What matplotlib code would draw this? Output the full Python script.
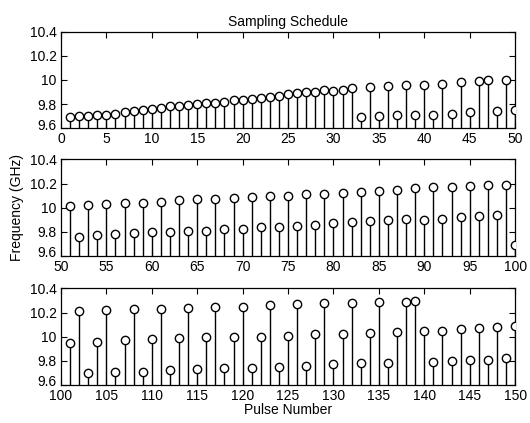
import numpy as np
import matplotlib
matplotlib.use("Agg")
import matplotlib.pyplot as plt
import matplotlib.transforms as mtransforms

plt.rcParams['font.family'] = ['Liberation Sans', 'DejaVu Sans']
plt.rcParams['font.size'] = 10

# pulse numbers 1..150 and the frequency (GHz) used for each pulse
pulses = np.arange(1, 151)

freq_1_50 = [9.69, 9.70, 9.70, 9.71, 9.71, 9.72, 9.73, 9.74, 9.75, 9.76,
             9.77, 9.78, 9.78, 9.79, 9.80, 9.81, 9.81, 9.82, 9.83, 9.83,
             9.84, 9.85, 9.86, 9.87, 9.88, 9.89, 9.90, 9.90, 9.92, 9.91,
             9.92, 9.93, 9.69, 9.94, 9.70, 9.95, 9.71, 9.96, 9.71, 9.96,
             9.71, 9.97, 9.72, 9.98, 9.73, 9.99, 10.00, 9.74, 10.00, 9.75]

freq_51_100 = [10.01, 9.76, 10.02, 9.77, 10.03, 9.78, 10.04, 9.79, 10.04, 9.80,
               10.05, 9.80, 10.06, 9.81, 10.07, 9.81, 10.07, 9.82, 10.08, 9.82,
               10.09, 9.84, 10.10, 9.84, 10.10, 9.85, 10.11, 9.86, 10.11, 9.87,
               10.12, 9.88, 10.13, 9.89, 10.14, 9.90, 10.15, 9.91, 10.16, 9.90,
               10.17, 9.91, 10.17, 9.92, 10.18, 9.93, 10.19, 9.94, 10.19, 9.69]

freq_101_150 = [9.95, 10.21, 9.70, 9.96, 10.22, 9.71, 9.97, 10.23, 9.71, 9.98,
                10.23, 9.72, 9.99, 10.24, 9.73, 10.00, 10.25, 9.74, 10.00, 10.25,
                9.74, 10.00, 10.26, 9.75, 10.01, 10.27, 9.76, 10.02, 10.28, 9.77,
                10.02, 10.28, 9.78, 10.03, 10.29, 9.78, 10.04, 10.29, 10.30, 10.05,
                9.79, 10.05, 9.80, 10.06, 9.81, 10.07, 9.81, 10.08, 9.82, 10.09]

freqs = np.array(freq_1_50 + freq_51_100 + freq_101_150)

yticks = [9.6, 9.8, 10.0, 10.2, 10.4]
ytick_labels = ["9.6", "9.8", "10", "10.2", "10.4"]

fig = plt.figure(figsize=(5.30, 4.23), dpi=100)

left, width = 0.115, 0.857
bottoms = [0.697, 0.395, 0.090]
height = 0.228

# small upward nudge for the lowest y label so it clears the first x label
nudge = mtransforms.ScaledTranslation(0, 3 / 72, fig.dpi_scale_trans)

axes = []
for i, b in enumerate(bottoms):
    ax = fig.add_axes([left, b, width, height])
    lo, hi = 50 * i, 50 * (i + 1)
    sel = (pulses > lo) & (pulses <= hi)
    markers, stems, base = ax.stem(pulses[sel], freqs[sel], linefmt='k-',
                                   markerfmt='ko', basefmt=' ', bottom=9.0)
    stems.set_linewidth(1.0)
    markers.set_markerfacecolor('white')
    markers.set_markeredgecolor('black')
    markers.set_markersize(6)
    markers.set_markeredgewidth(1.0)
    markers.set_zorder(3)

    ax.set_xlim(lo, hi)
    ax.set_ylim(9.6, 10.4)
    ax.set_xticks(np.arange(lo, hi + 1, 5))
    ax.set_yticks(yticks)
    ax.set_yticklabels(ytick_labels)
    ax.tick_params(direction='in', top=True, right=True, length=4,
                   width=0.8, labelsize=10)
    ax.tick_params(axis='x', pad=3)
    ax.tick_params(axis='y', pad=3)
    for s in ax.spines.values():
        s.set_linewidth(0.9)

    lowest = ax.get_yticklabels()[0]
    lowest.set_transform(lowest.get_transform() + nudge)
    axes.append(ax)

axes[0].set_title("Sampling Schedule", fontsize=10, pad=4)
axes[1].set_ylabel("Frequency (GHz)", fontsize=10, labelpad=4)
axes[2].set_xlabel("Pulse Number", fontsize=10, labelpad=0)

fig.savefig("out.png", dpi=100, facecolor='white')
